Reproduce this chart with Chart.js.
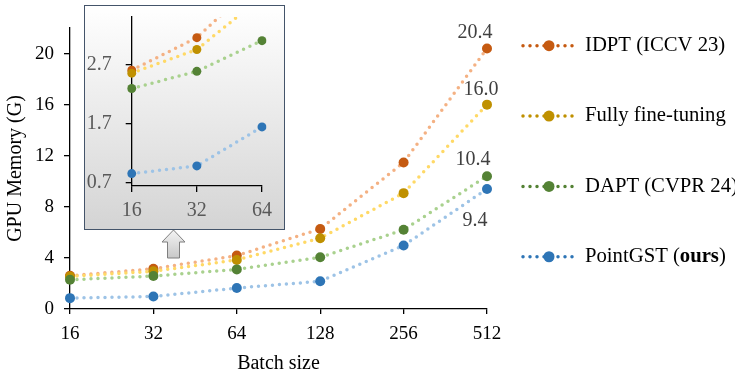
<!DOCTYPE html>
<html>
<head>
<meta charset="utf-8">
<script src="https://cdn.jsdelivr.net/npm/chart.js@4.4.1/dist/chart.umd.min.js"></script>
<style>
  body { margin: 0; background: #fff; }
  #wrap { position: relative; width: 735px; height: 372px; }
  #mainChart { position: absolute; left: 0; top: 0; }
  #inset {
    position: absolute; left: 84px; top: 5px; width: 199px; height: 223px;
    border: 1px solid #44546a;
    background: linear-gradient(#ffffff, #d4d4d4);
  }
  #insetChart { position: absolute; left: 0; top: 0; }
</style>
</head>
<body>
<div id="wrap">
  <canvas id="mainChart" width="735" height="372"></canvas>
  <div id="inset"><canvas id="insetChart" width="199" height="223"></canvas></div>
</div>
<script>
const batchSizes = ["16", "32", "64", "128", "256", "512"];
const seriesNames = ["IDPT (ICCV 23)", "Fully fine-tuning", "DAPT (CVPR 24)", "PointGST (ours)"];
const idpt = [2.6, 3.15, 4.18, 6.27, 11.47, 20.4];
const fullyFT = [2.55, 2.95, 3.84, 5.54, 9.07, 16.0];
const dapt = [2.29, 2.58, 3.1, 4.05, 6.2, 10.4];
const pointGST = [0.85, 0.98, 1.64, 2.17, 4.97, 9.4];
const yTicks = [0, 4, 8, 12, 16, 20];
const insetTicks = [0.7, 1.7, 2.7];
const insetBatches = 3;

const FONT = "'Liberation Serif', 'Times New Roman', serif";
const markerColors = ["#c55a11", "#bf9000", "#548235", "#2e75b6"];
const lineColors = ["#f4b183", "#ffd966", "#a9d18e", "#9dc3e6"];
const allSeries = [idpt, fullyFT, dapt, pointGST];

function makeDatasets(count, radius) {
    return allSeries.map((vals, i) => ({
        label: seriesNames[i],
        data: vals.slice(0, count),
        borderColor: lineColors[i],
        borderWidth: 3.5,
        borderDash: [0, 7],
        borderCapStyle: 'round',
        pointRadius: radius,
        pointHoverRadius: radius,
        pointBackgroundColor: markerColors[i],
        pointBorderColor: markerColors[i],
        pointBorderWidth: 0,
        tension: 0,
        order: allSeries.length - i
    }));
}

// last-point value labels
const labelOffsets = [[-12, -16], [-6, -15], [-14, -16], [-12, 32]];
const dataLabels = {
    id: 'dataLabels',
    afterDatasetsDraw(chart) {
        const ctx = chart.ctx;
        ctx.save();
        ctx.font = "20px " + FONT;
        ctx.fillStyle = "#404040";
        ctx.textAlign = "center";
        ctx.textBaseline = "middle";
        chart.data.datasets.forEach((ds, i) => {
            const last = ds.data.length - 1;
            const pt = chart.getDatasetMeta(i).data[last];
            ctx.fillText(ds.data[last].toFixed(1), pt.x + labelOffsets[i][0], pt.y + labelOffsets[i][1]);
        });
        ctx.restore();
    }
};

// legend on the right + zoom arrow
const sideLegend = {
    id: 'sideLegend',
    afterDraw(chart) {
        const ctx = chart.ctx;
        chart.data.datasets.forEach((ds, i) => {
            const y = 45.7 + i * 70.35;
            ctx.save();
            ctx.strokeStyle = markerColors[i];
            ctx.lineWidth = 3.5;
            ctx.lineCap = 'round';
            ctx.setLineDash([0, 7]);
            ctx.beginPath();
            ctx.moveTo(523, y);
            ctx.lineTo(576, y);
            ctx.stroke();
            ctx.setLineDash([]);
            ctx.fillStyle = markerColors[i];
            ctx.beginPath();
            ctx.arc(549, y, 5.5, 0, Math.PI * 2);
            ctx.fill();
            ctx.fillStyle = "#000";
            ctx.textBaseline = "middle";
            ctx.textAlign = "left";
            ctx.font = "20.7px " + FONT;
            if (i === 3) {
                let x = 585;
                ctx.fillText("PointGST (", x, y);
                x += ctx.measureText("PointGST (").width;
                ctx.font = "bold 20.7px " + FONT;
                ctx.fillText("ours", x, y);
                x += ctx.measureText("ours").width;
                ctx.font = "20.7px " + FONT;
                ctx.fillText(")", x, y);
            } else {
                ctx.fillText(seriesNames[i], 585, y);
            }
            ctx.restore();
        });

        // up arrow under the inset
        ctx.save();
        const g = ctx.createLinearGradient(0, 230, 0, 258);
        g.addColorStop(0, "#f4f4f4");
        g.addColorStop(1, "#c8c8c8");
        ctx.fillStyle = g;
        ctx.strokeStyle = "#7f7f7f";
        ctx.lineWidth = 1;
        ctx.beginPath();
        ctx.moveTo(173.5, 230);
        ctx.lineTo(185, 242);
        ctx.lineTo(179.5, 242);
        ctx.lineTo(179.5, 258);
        ctx.lineTo(167.5, 258);
        ctx.lineTo(167.5, 242);
        ctx.lineTo(162, 242);
        ctx.closePath();
        ctx.fill();
        ctx.stroke();
        ctx.restore();
    }
};

new Chart(document.getElementById("mainChart"), {
    type: "line",
    data: { labels: batchSizes, datasets: makeDatasets(batchSizes.length, 5) },
    options: {
        responsive: false,
        animation: false,
        layout: { padding: { top: 28, right: 248, left: 0, bottom: 0 } },
        plugins: { legend: { display: false }, tooltip: { enabled: false } },
        scales: {
            x: {
                offset: false,
                grid: { display: true, drawOnChartArea: false, drawTicks: true, tickLength: 5, color: "#000", lineWidth: 1.3 },
                border: { display: true, color: "#000", width: 1.3 },
                ticks: { color: "#000", font: { family: FONT, size: 19 }, padding: 9, maxRotation: 0 },
                title: { display: true, text: "Batch size", color: "#000", font: { family: FONT, size: 20 }, padding: { top: 0, bottom: -4 } },
                afterFit(scale) { scale.height = 63; }
            },
            y: {
                min: 0,
                max: 22,
                afterBuildTicks(scale) { scale.ticks = yTicks.map(v => ({ value: v })); },
                grid: { display: true, drawOnChartArea: false, drawTicks: true, tickLength: 6, color: "#000", lineWidth: 1.3 },
                border: { display: true, color: "#000", width: 1.3 },
                ticks: { color: "#000", font: { family: FONT, size: 19 }, padding: 10 },
                title: { display: true, text: "GPU Memory (G)", color: "#000", font: { family: FONT, size: 20 }, padding: { top: 4, bottom: 0 } },
                afterFit(scale) { scale.width = 70; }
            }
        }
    },
    plugins: [dataLabels, sideLegend]
});

// zoomed inset: first three batch sizes
new Chart(document.getElementById("insetChart"), {
    type: "line",
    data: { labels: batchSizes.slice(0, insetBatches), datasets: makeDatasets(insetBatches, 4.5) },
    options: {
        responsive: false,
        animation: false,
        layout: { padding: { top: 11, right: 22, left: 0, bottom: 0 } },
        plugins: { legend: { display: false }, tooltip: { enabled: false } },
        scales: {
            x: {
                offset: false,
                grid: { display: true, drawOnChartArea: false, drawTicks: true, tickLength: 6, color: "#000", lineWidth: 1.3 },
                border: { display: true, color: "#000", width: 1.3 },
                ticks: { color: "#595959", font: { family: FONT, size: 20 }, padding: 7, maxRotation: 0 },
                afterFit(scale) { scale.height = 43; scale.paddingLeft = 0; scale.paddingRight = 0; }
            },
            y: {
                min: 0.64,
                max: 3.5,
                afterBuildTicks(scale) { scale.ticks = insetTicks.map(v => ({ value: v })); },
                grid: { display: true, drawOnChartArea: false, drawTicks: true, tickLength: 6, color: "#000", lineWidth: 1.3 },
                border: { display: true, color: "#000", width: 1.3 },
                ticks: { color: "#595959", font: { family: FONT, size: 20 }, padding: 14, callback: v => v.toFixed(1) },
                afterFit(scale) { scale.width = 46.7; scale.paddingTop = 0; scale.paddingBottom = 0; }
            }
        }
    }
});
</script>
</body>
</html>
